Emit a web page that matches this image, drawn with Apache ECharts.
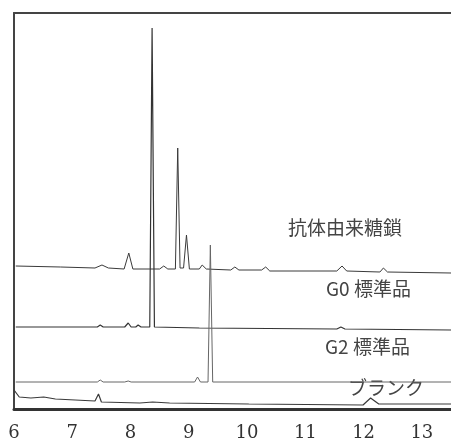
<!DOCTYPE html>
<html lang="ja">
<head>
	<meta charset="UTF-8">
	<title></title>
	<script src="https://cdn.jsdelivr.net/npm/echarts@6/dist/echarts.min.js"></script>
	<style>
		html, body{
			width: 100%;
			height: 100%;
			padding: 0;
			margin: 0;
			background-color: #fff;
		}
		#main{
			width: 451px;
			height: 445px;
		}
	</style>
</head>
<body>
	<div id="main"></div>
</body>
<script>
	// 保持時間 (min) と信号強度 — 各トレースは上下にずらして描く
	let xTicks = [6, 7, 8, 9, 10, 11, 12, 13];

	// 抗体由来糖鎖
	let antibody = [
		[6.03, 143], [6.80, 142], [7.39, 141], [7.51, 144], [7.62, 141],
		[7.89, 140], [7.97, 156], [8.04, 140], [8.33, 140], [8.50, 140],
		[8.57, 143], [8.64, 140], [8.77, 140], [8.81, 261], [8.85, 141],
		[8.91, 141], [8.96, 174], [9.01, 140], [9.18, 140], [9.23, 144],
		[9.30, 140], [9.72, 139], [9.79, 142], [9.86, 139], [10.25, 139],
		[10.32, 142], [10.39, 138], [11.54, 138], [11.63, 143], [11.71, 138],
		[12.28, 137], [12.34, 141], [12.41, 137], [13.5, 136]
	];

	// G0 標準品
	let g0 = [
		[6.03, 82], [7.43, 82], [7.48, 84], [7.53, 82], [7.90, 82],
		[7.96, 86], [8.01, 82], [8.09, 82], [8.13, 84], [8.18, 82],
		[8.33, 82], [8.37, 381], [8.41, 82], [9.18, 81], [11.54, 80],
		[11.61, 82], [11.68, 80], [13.5, 79]
	];

	// G2 標準品
	let g2 = [
		[6.03, 27], [7.43, 27], [7.48, 29], [7.53, 27], [7.90, 27],
		[7.96, 28], [8.01, 27], [9.10, 27], [9.15, 32], [9.20, 27],
		[9.33, 27], [9.37, 164], [9.41, 27], [13.5, 27]
	];

	// ブランク
	let blank = [
		[6.00, 19], [6.09, 12], [6.29, 11], [6.51, 12], [6.71, 10],
		[7.39, 8], [7.45, 15], [7.50, 7], [8.16, 6], [8.38, 7],
		[8.67, 6], [10.03, 5], [11.99, 4], [12.12, 11], [12.26, 5],
		[13.5, 5]
	];

	let traceNames = ['抗体由来糖鎖', 'G0 標準品', 'G2 標準品', 'ブランク'];

	let myChart = echarts.init(document.getElementById('main'));

	function trace(name, data, color, width){
		return {
			name: name,
			type: 'line',
			data: data,
			symbol: 'none',
			silent: true,
			lineStyle: {color: color, width: width}
		};
	}

	function label(text, x, y){
		return {
			type: 'text',
			left: x,
			top: y,
			style: {
				text: text,
				font: '19px "Noto Sans CJK JP"',
				fill: '#444'
			}
		};
	}

	myChart.setOption({
		animation: false,
		grid: {
			left: 14,
			right: 0,
			top: 13,
			bottom: 36
		},
		xAxis: [{
			type: 'value',
			min: 6,
			max: 13.5,
			interval: 1,
			axisLine: {lineStyle: {color: '#333', width: 3}},
			axisTick: {show: false},
			splitLine: {show: false},
			axisLabel: {
				margin: 15,
				fontSize: 18,
				fontFamily: 'DejaVu Serif',
				color: '#333',
				showMaxLabel: false,
				formatter: function(v){
					return xTicks.indexOf(v) >= 0 ? String(v) : '';
				}
			}
		}, {
			// 上枠
			type: 'value',
			position: 'top',
			min: 6,
			max: 13.5,
			axisLine: {show: true, lineStyle: {color: '#444', width: 2}},
			axisTick: {show: false},
			axisLabel: {show: false},
			splitLine: {show: false}
		}],
		yAxis: {
			type: 'value',
			min: 0,
			max: 396,
			axisLine: {show: true, lineStyle: {color: '#444', width: 2}},
			axisTick: {show: false},
			axisLabel: {show: false},
			splitLine: {show: false}
		},
		series: [
			trace(traceNames[0], antibody, '#3a3a3a', 1),
			trace(traceNames[1], g0, '#333', 1.2),
			trace(traceNames[2], g2, '#666', 1),
			trace(traceNames[3], blank, '#3a3a3a', 1.2)
		],
		graphic: [
			label(traceNames[0], 288, 218),
			label(traceNames[1], 326, 279),
			label(traceNames[2], 325, 337),
			label(traceNames[3], 348, 378)
		]
	});
</script>
</html>
